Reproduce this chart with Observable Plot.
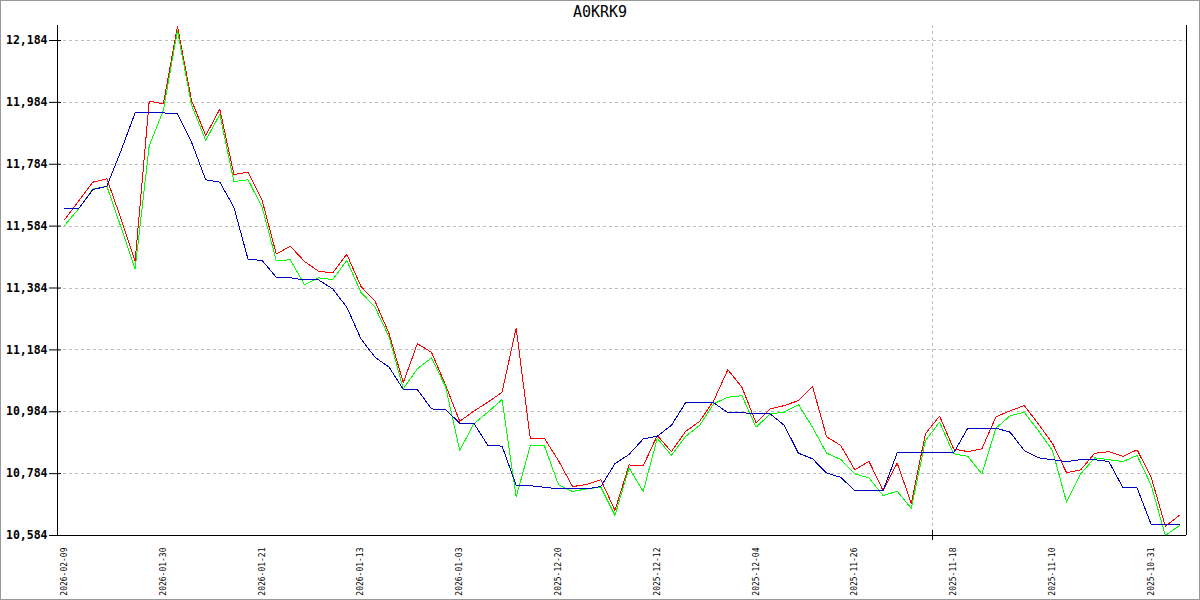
<!DOCTYPE html>
<html>
<head>
<meta charset="utf-8">
<script src="https://cdn.jsdelivr.net/npm/d3@7"></script>
<script src="https://cdn.jsdelivr.net/npm/@observablehq/plot@0.6"></script>
<style>
  html, body { margin: 0; padding: 0; background: #fff; }
  #wrap { position: relative; width: 1200px; height: 600px; overflow: hidden; background: #fff; }
  #border { position: absolute; left: 0; top: 0; width: 1200px; height: 600px; box-sizing: border-box; border: 1px solid #999; pointer-events: none; }
  #title { height: 20px; box-sizing: border-box; padding-top: 5px; line-height: 15px; text-align: center; font-family: "DejaVu Sans Mono", monospace; font-size: 15px; color: #000; }
  #chart svg { display: block; }
</style>
</head>
<body>
<div id="wrap">
  <div id="title">A0KRK9</div>
  <div id="chart"></div>
  <div id="border"></div>
</div>
<script>
// ---- data (newest on the left) ----
const redSeries = [11.604, 11.665, 11.726, 11.737, 11.608, 11.471, 11.988, 11.979, 12.230, 11.990,
  11.877, 11.962, 11.751, 11.758, 11.667, 11.494, 11.519, 11.470, 11.438, 11.433,
  11.493, 11.389, 11.341, 11.236, 11.078, 11.204, 11.176, 11.070, 10.953, 10.986,
  11.015, 11.047, 11.255, 10.898, 10.898, 10.826, 10.742, 10.749, 10.764, 10.665,
  10.812, 10.809, 10.907, 10.855, 10.920, 10.953, 11.020, 11.120, 11.063, 10.948,
  10.993, 11.004, 11.020, 11.066, 10.903, 10.875, 10.796, 10.824, 10.729, 10.818,
  10.688, 10.913, 10.970, 10.864, 10.855, 10.864, 10.968, 10.987, 11.004, 10.945,
  10.882, 10.787, 10.796, 10.850, 10.855, 10.840, 10.861, 10.772, 10.614, 10.649];

const greenSeries = [11.586, 11.640, 11.704, 11.713, 11.580, 11.446, 11.844, 11.958, 12.216, 11.975,
  11.861, 11.945, 11.728, 11.734, 11.645, 11.473, 11.475, 11.395, 11.417, 11.411,
  11.473, 11.370, 11.322, 11.225, 11.058, 11.123, 11.158, 11.065, 10.859, 10.945,
  10.983, 11.023, 10.708, 10.874, 10.874, 10.748, 10.726, 10.735, 10.740, 10.649,
  10.802, 10.726, 10.898, 10.843, 10.904, 10.940, 11.010, 11.031, 11.036, 10.934,
  10.977, 10.983, 11.007, 10.934, 10.850, 10.830, 10.783, 10.770, 10.713, 10.727,
  10.672, 10.891, 10.950, 10.848, 10.840, 10.783, 10.931, 10.971, 10.983, 10.923,
  10.859, 10.692, 10.783, 10.835, 10.829, 10.823, 10.843, 10.746, 10.584, 10.616];

const blueSeries = [11.640, 11.640, 11.702, 11.713, 11.828, 11.950, 11.950, 11.950, 11.947, 11.855,
  11.734, 11.726, 11.645, 11.477, 11.473, 11.419, 11.417, 11.410, 11.410, 11.381,
  11.322, 11.220, 11.160, 11.128, 11.056, 11.056, 10.993, 10.991, 10.947, 10.947,
  10.875, 10.873, 10.746, 10.745, 10.740, 10.735, 10.735, 10.735, 10.742, 10.816,
  10.846, 10.896, 10.905, 10.940, 11.013, 11.013, 11.013, 10.981, 10.981, 10.977,
  10.977, 10.940, 10.850, 10.832, 10.786, 10.772, 10.729, 10.729, 10.729, 10.851,
  10.851, 10.851, 10.851, 10.851, 10.931, 10.931, 10.931, 10.918, 10.859, 10.835,
  10.829, 10.823, 10.829, 10.829, 10.823, 10.738, 10.738, 10.619, 10.619, 10.619];

const tickLabels = ["2026-02-09", "2026-01-30", "2026-01-21", "2026-01-13", "2026-01-03", "2025-12-20",
  "2025-12-12", "2025-12-04", "2025-11-26", "2025-11-18", "2025-11-10", "2025-10-31"];
const tickIndex = [0, 7, 14, 21, 28, 35, 42, 49, 56, 63, 70, 77];
const yTicks = [10.584, 10.784, 10.984, 11.184, 11.384, 11.584, 11.784, 11.984, 12.184];
const yTop = 12.2325;
const markerIndex = [61.5];

// ---- chart ----
const n = redSeries.length;
const labelOf = new Map(tickIndex.map((t, k) => [t, tickLabels[k]]));
const gridStyle = {stroke: "#bdbdbd", strokeWidth: 1, strokeDasharray: "3,3", strokeOpacity: 1, shapeRendering: "crispEdges"};
const lineOpts = (color) => ({x: (d, i) => i, y: d => d, stroke: color, strokeWidth: 1, shapeRendering: "crispEdges"});
const axisLine = {stroke: "#000", strokeWidth: 1, shapeRendering: "crispEdges"};

const chart = Plot.plot({
  width: 1200,
  height: 580,
  marginLeft: 57,
  marginRight: 14,
  marginTop: 5,
  marginBottom: 65,
  style: {fontFamily: "DejaVu Sans Mono, monospace", fontSize: "8px", color: "#000", background: "#fff"},
  x: {domain: [-0.5, n - 0.5]},
  y: {domain: [yTicks[0], yTop]},
  marks: [
    Plot.ruleY(yTicks.slice(1), gridStyle),
    Plot.ruleX(markerIndex, gridStyle),
    Plot.lineY(redSeries, lineOpts("#ff0000")),
    Plot.lineY(greenSeries, lineOpts("#00ff00")),
    Plot.lineY(blueSeries, lineOpts("#0000bf")),
    Plot.ruleX([-0.5, n - 0.5], axisLine),
    Plot.ruleY([yTicks[0]], axisLine),
    Plot.axisY({ticks: yTicks, tickFormat: d => d.toFixed(3).replace(".", ","), tickSize: 12, tickPadding: 2, dx: 4,
      fontSize: 11.5, fontWeight: "bold", stroke: "#000", strokeWidth: 1, label: null}),
    Plot.axisX({ticks: tickIndex, tickFormat: i => labelOf.get(i), tickSize: 0, tickPadding: 12, tickRotate: -90,
      fontSize: 8, label: null}),
    Plot.axisX({ticks: markerIndex, tickSize: 10, dy: -5, text: null, stroke: "#000", strokeWidth: 1, label: null})
  ]
});
document.getElementById("chart").appendChild(chart);
</script>
</body>
</html>
